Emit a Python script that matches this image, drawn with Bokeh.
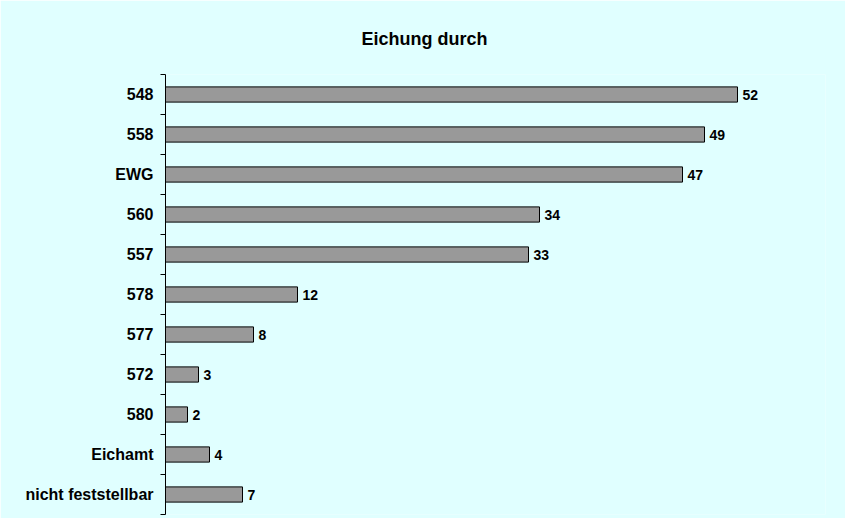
from bokeh.plotting import figure
from bokeh.models import ColumnDataSource, Range1d, FixedTicker
from bokeh.core.properties import value
from bokeh.embed import file_html
from bokeh.resources import INLINE

categories = ["548", "558", "EWG", "560", "557", "578", "577", "572", "580", "Eichamt", "nicht feststellbar"]
counts = [52, 49, 47, 34, 33, 12, 8, 3, 2, 4, 7]
title_text = "Eichung durch"

n = len(categories)
ypos = [n - 0.5 - i for i in range(n)]
labels = [str(c) for c in counts]

src = ColumnDataSource(dict(cat=categories, y=ypos, v=counts, lbl=labels))

FONT = "Liberation Sans"

p = figure(width=845, height=518, output_backend="svg", toolbar_location=None,
           x_range=Range1d(0, 60), y_range=Range1d(0, n),
           background_fill_color="#E0FFFF", border_fill_color="#E0FFFF",
           min_border_left=165, min_border_right=20, min_border_top=74, min_border_bottom=4)
p.outline_line_color = None
p.grid.visible = False
p.xaxis.visible = False

p.hbar(y="y", right="v", left=0, height=0.38, source=src,
       fill_color="#999999", line_color="#000000", line_width=1)
p.text(x="v", y="y", text="lbl", source=src, x_offset=5,
       text_baseline="middle", text_align="left",
       text_font=value(FONT), text_font_style="bold", text_font_size="14px", text_color="#000000")

yax = p.yaxis[0]
yax.ticker = FixedTicker(ticks=ypos, minor_ticks=list(range(n + 1)))
yax.major_label_overrides = {y: c for y, c in zip(ypos, categories)}
yax.major_tick_line_color = None
yax.major_tick_out = 0
yax.major_tick_in = 0
yax.minor_tick_out = 5
yax.minor_tick_in = 0
yax.minor_tick_line_color = "#000000"
yax.axis_line_color = "#000000"
yax.major_label_standoff = 7
yax.major_label_text_font = FONT
yax.major_label_text_font_style = "bold"
yax.major_label_text_font_size = "16px"
yax.major_label_text_color = "#000000"

p.title.text = title_text
p.title.align = "left"
p.title.offset = 196
p.title.standoff = 52
p.title.text_font = FONT
p.title.text_font_style = "bold"
p.title.text_font_size = "18px"
p.title.text_color = "#000000"

open("out.html", "w").write(file_html(p, INLINE))
